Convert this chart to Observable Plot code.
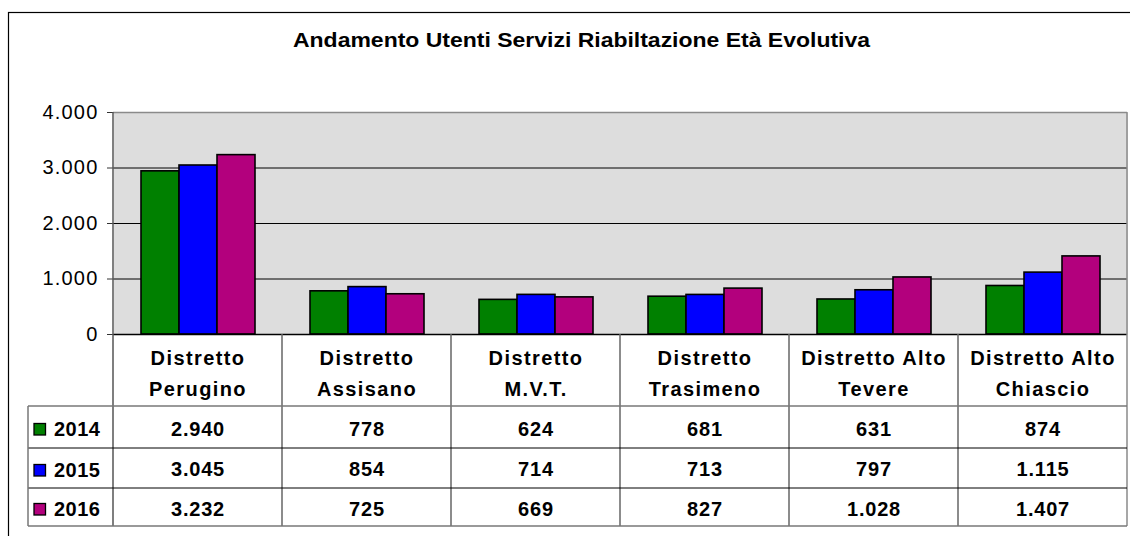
<!DOCTYPE html>
<html>
<head>
<meta charset="utf-8">
<script src="https://cdn.jsdelivr.net/npm/d3@7"></script>
<script src="https://cdn.jsdelivr.net/npm/@observablehq/plot@0.6"></script>
<style>
  html, body { margin: 0; padding: 0; background: #fff; overflow: hidden; }
  svg { display: block; }
  svg text { letter-spacing: 0.8px; }
</style>
</head>
<body>
<div id="chart"></div>
<script>
const chartTitle = "Andamento Utenti Servizi Riabiltazione Età Evolutiva";
const categories = ["Distretto Perugino", "Distretto Assisano", "Distretto M.V.T.", "Distretto Trasimeno", "Distretto Alto Tevere", "Distretto Alto Chiascio"];
const categoryLabels = ["Distretto\nPerugino", "Distretto\nAssisano", "Distretto\nM.V.T.", "Distretto\nTrasimeno", "Distretto Alto\nTevere", "Distretto Alto\nChiascio"];
const years = ["2014", "2015", "2016"];
const values2014 = [2940, 778, 624, 681, 631, 874];
const values2015 = [3045, 854, 714, 713, 797, 1115];
const values2016 = [3232, 725, 669, 827, 1028, 1407];
const yearColors = ["#008000", "#0000FF", "#B3007D"];
const yTicks = [0, 1000, 2000, 3000, 4000];

const seriesValues = [values2014, values2015, values2016];
const rows = years.flatMap((yr, i) => categories.map((c, j) => ({category: c, year: yr, value: seriesValues[i][j]})));
const fmt = d => d3.format(",")(d).replace(/,/g, ".");

const font = "'Liberation Sans', Arial, sans-serif";
// table layout (pixel offsets below the zero line)
const labelRowDy = 36;
const valueRowDy = [94.6, 135.3, 174.6];

const plot = Plot.plot({
  width: 1130,
  height: 536,
  marginTop: 112,
  marginBottom: 202,
  marginLeft: 112,
  marginRight: 2,
  style: {background: "white", fontFamily: font, fontSize: "20px", overflow: "visible", color: "#000"},
  fx: {domain: categories, padding: 0, axis: null, label: null},
  x: {domain: years, paddingInner: 0, paddingOuter: 0.71, axis: null, label: null},
  y: {domain: [0, 4000], label: null},
  color: {domain: years, range: yearColors},
  marks: [
    Plot.frame({fill: "#DDDDDD", stroke: "none", shapeRendering: "crispEdges"}),
    Plot.ruleY([1000, 2000, 3000], {stroke: "#000", strokeWidth: 1}),
    Plot.ruleY([4000], {stroke: "#8a8a8a", strokeWidth: 1.5}),
    Plot.barY(rows, {fx: "category", x: "year", y: "value", fill: "year", stroke: "#000", strokeWidth: 1.6}),
    Plot.ruleY([0], {stroke: "#000", strokeWidth: 1.5}),
    Plot.axisY({ticks: yTicks, tickFormat: fmt, tickSize: 6, tickPadding: 9, fontSize: 20, stroke: "#333", label: null}),
    Plot.text(categories, {fx: d => d, text: (d, i) => categoryLabels[i], frameAnchor: "bottom", dy: labelRowDy,
      lineAnchor: "middle", lineHeight: 1.54, fontSize: 20, fontWeight: "bold", fill: "#000"}),
    ...years.map((yr, i) => Plot.text(categories, {fx: d => d, text: (d, j) => fmt(seriesValues[i][j]),
      frameAnchor: "bottom", dy: valueRowDy[i], lineAnchor: "middle", fontSize: 20, fontWeight: "bold", fill: "#000"}))
  ]
});

document.getElementById("chart").appendChild(plot);

const svg = d3.select(plot);
// wider letter spacing for the two-line category labels and the y tick labels
svg.selectAll("text").filter(function() { return this.querySelector("tspan"); }).style("letter-spacing", "1.4px");
svg.selectAll('g[aria-label="y-axis tick label"] text').style("letter-spacing", "1.2px");

// Table grid, legend, title and outer frame drawn with the plot's scales
const fx = plot.scale("fx");
const ys = plot.scale("y");
const left = fx.apply(categories[0]);
const right = fx.apply(categories[categories.length - 1]) + fx.bandwidth;
const y0 = ys.apply(0);
const yTop = ys.apply(4000);
const labelRowBottom = y0 + 72;
const rowBottoms = [y0 + 114, y0 + 154, y0 + 192];
const legendLeft = 28;

const g = svg.append("g").attr("fill", "none");
g.append("line").attr("x1", left).attr("x2", left).attr("y1", yTop).attr("y2", rowBottoms[2]).attr("stroke", "#555").attr("stroke-width", 1.5);
g.append("line").attr("x1", right).attr("x2", right).attr("y1", yTop).attr("y2", rowBottoms[2]).attr("stroke", "#8a8a8a").attr("stroke-width", 1.5);
categories.slice(1).forEach(c => {
  const x = fx.apply(c);
  g.append("line").attr("x1", x).attr("x2", x).attr("y1", y0).attr("y2", rowBottoms[2]).attr("stroke", "#666").attr("stroke-width", 1.5);
});
g.append("line").attr("x1", legendLeft).attr("x2", right).attr("y1", labelRowBottom).attr("y2", labelRowBottom).attr("stroke", "#777").attr("stroke-width", 1.5);
g.append("line").attr("x1", legendLeft).attr("x2", right).attr("y1", rowBottoms[0]).attr("y2", rowBottoms[0]).attr("stroke", "#000").attr("stroke-width", 1);
g.append("line").attr("x1", legendLeft).attr("x2", right).attr("y1", rowBottoms[1]).attr("y2", rowBottoms[1]).attr("stroke", "#000").attr("stroke-width", 1);
g.append("line").attr("x1", legendLeft).attr("x2", right).attr("y1", rowBottoms[2]).attr("y2", rowBottoms[2]).attr("stroke", "#777").attr("stroke-width", 1.5);
g.append("line").attr("x1", legendLeft).attr("x2", legendLeft).attr("y1", labelRowBottom).attr("y2", rowBottoms[2]).attr("stroke", "#777").attr("stroke-width", 1.5);

// legend keys
const rowTops = [labelRowBottom, rowBottoms[0], rowBottoms[1]];
years.forEach((yr, i) => {
  const cy = (rowTops[i] + rowBottoms[i]) / 2;
  g.append("rect").attr("x", 34).attr("y", cy - 3.5).attr("width", 11.5).attr("height", 11.5)
    .attr("fill", yearColors[i]).attr("stroke", "#000").attr("stroke-width", 1.3);
  svg.append("text").attr("x", 54).attr("y", cy + 8.5).attr("text-anchor", "start").attr("font-size", 20).attr("font-weight", "bold")
    .attr("font-family", font).attr("fill", "#000").style("letter-spacing", "0.5px").text(yr);
});

// title
svg.append("text").attr("x", 293).attr("y", 46.7).attr("text-anchor", "start")
  .attr("font-size", 20.5).attr("font-weight", "bold").attr("font-family", font).attr("fill", "#000")
  .attr("textLength", 577).attr("lengthAdjust", "spacingAndGlyphs")
  .style("letter-spacing", "0px").text(chartTitle);

// outer frame
svg.append("rect").attr("x", 8.5).attr("y", 12.5).attr("width", 1200).attr("height", 600)
  .attr("fill", "none").attr("stroke", "#000").attr("stroke-width", 1.2);
</script>
</body>
</html>
